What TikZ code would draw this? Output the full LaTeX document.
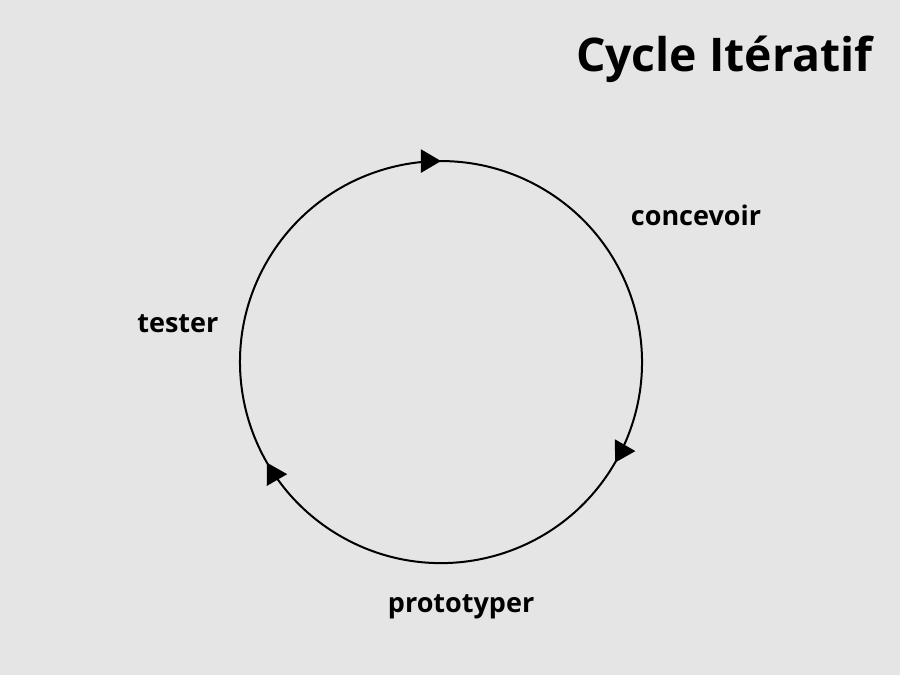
\documentclass[tikz,border=0pt]{standalone}
\usepackage{fontspec}
\setmainfont{Open Sans}
\usepackage{xcolor}
\usetikzlibrary{arrows.meta,decorations.markings}
\definecolor{paper}{HTML}{E5E5E5}

\begin{document}
\begin{tikzpicture}[every node/.style={font=\bfseries\fontsize{25.6}{30}\selectfont, inner sep=0pt}, >={Triangle[length=6.7mm,width=7.7mm]}]
\fill[paper] (0,0) rectangle (30,22.5);
\coordinate (c) at (14.7,10.43);
% cycle, clockwise, three arrows 120 degrees apart
\draw[line width=1.9pt, postaction={decorate}, decoration={markings,
  mark=at position 0.1667 with {\arrow{>}},
  mark=at position 0.5 with {\arrow{>}},
  mark=at position 0.8333 with {\arrow{>}}}]
  (c) ++(150:6.7) arc[start angle=150, end angle=-210, radius=6.7];
\node[anchor=base] (concevoir) at (23.2,14.97) {concevoir};
\node[anchor=base] (proto) at (15.37,2.07) {prototyper};
\node[anchor=base] (tester) at (5.93,11.43) {tester};
\node[anchor=base east, font=\bfseries\fontsize{44}{52}\selectfont] (titre) at (29.1,20.1) {Cycle Itératif};
\end{tikzpicture}
\end{document}
